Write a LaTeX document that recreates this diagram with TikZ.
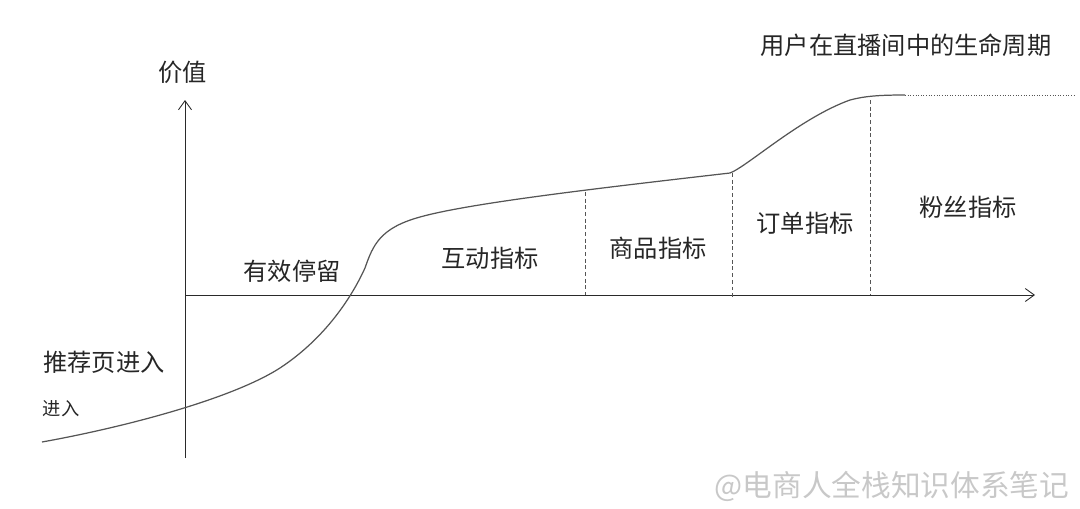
\documentclass[tikz,border=0pt]{standalone}
\usepackage{fontspec}
\setmainfont{Noto Sans CJK SC}
\usepackage{tikz}
\usetikzlibrary{positioning,arrows.meta}
\definecolor{curvegray}{HTML}{555555}
\definecolor{axisdark}{HTML}{2A2A2A}
\definecolor{markgray}{HTML}{C8C8C8}
\tikzset{
  axisarrow/.style={-{Straight Barb[length=1.8mm, width=2.6mm]}, draw=axisdark, line width=0.5pt},
  lifecurve/.style={draw=curvegray, line width=0.7pt},
  stagesep/.style={draw=curvegray, dashed, dash pattern=on 2.2pt off 1.6pt, line width=0.45pt},
  stagelabel/.style={text=black!85, font=\fontsize{13.8}{16}\selectfont, inner sep=0pt},
  smalllabel/.style={text=black!85, font=\fontsize{10.4}{12}\selectfont, inner sep=0pt},
  watermark/.style={text=markgray, font=\fontsize{16.9}{19}\selectfont, inner sep=0pt}
}

\begin{document}
\begin{tikzpicture}[x=0.02cm, y=-0.02cm]
  \useasboundingbox (0,0) rectangle (1080,508);
  % axes
  \coordinate (origin) at (185,295);
  \coordinate (ybot) at (185,458);
  \coordinate (ytop) at (185,100);
  \coordinate (xend) at (1035,295);
  \draw[axisarrow] (ybot) -- (ytop);
  \draw[axisarrow] (origin) -- (xend);
  \node[stagelabel] (valuelbl) at (183,72) {价值};
  \node[stagelabel] (title) at (906,45) {用户在直播间中的生命周期};

  % life curve
  \coordinate (c0) at (42,442);
  \coordinate (c1) at (280,368);
  \coordinate (c2) at (365,268);
  \coordinate (c3) at (420,217);
  \coordinate (kink) at (730,173);
  \coordinate (c5) at (850,100);
  \coordinate (plateau) at (905,95);
  \coordinate (farend) at (1075,95);
  \draw[lifecurve] (c0) .. controls (120,428) and (230,400) .. (c1)
    .. controls (330,335) and (355,290) .. (c2)
    .. controls (373,245) and (380,228) .. (c3)
    .. controls (470,203) and (600,188) .. (kink)
    .. controls (748,166) and (800,118) .. (c5)
    .. controls (865,96) and (880,95) .. (plateau);
  \draw[curvegray, densely dotted, line width=0.5pt] (plateau) -- (farend);

  % stage separators
  \coordinate (s1top) at (585,192);
  \coordinate (s1bot) at (585,295);
  \coordinate (s2top) at (732,173);
  \coordinate (s2bot) at (732,298);
  \coordinate (s3top) at (870,100);
  \coordinate (s3bot) at (870,295);
  \draw[stagesep] (s1top) -- (s1bot);
  \draw[stagesep] (s2top) -- (s2bot);
  \draw[stagesep] (s3top) -- (s3bot);

  % stage labels
  \node[stagelabel] (stay) at (292,271) {有效停留};
  \node[stagelabel] (interact) at (490,258) {互动指标};
  \node[stagelabel] (goods) at (658,248) {商品指标};
  \node[stagelabel] (order) at (805,223) {订单指标};
  \node[stagelabel] (fans) at (968,207) {粉丝指标};
  \node[stagelabel] (entry) at (104,362) {推荐页进入};
  \node[smalllabel] (entrysmall) at (61,409) {进入};

  \node[watermark] (mark) at (892,486) {@电商人全栈知识体系笔记};
\end{tikzpicture}
\end{document}
